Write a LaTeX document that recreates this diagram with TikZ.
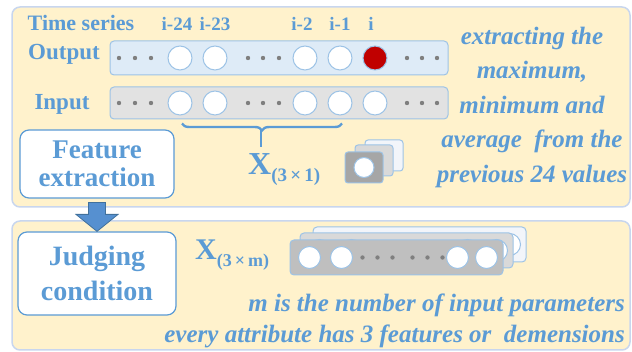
\documentclass[tikz,border=0pt]{standalone}
\usepackage{fontspec}
\setmainfont{Liberation Serif}
\usepackage{tikz}
\usetikzlibrary{positioning,calc,decorations.pathreplacing}
\definecolor{panelfill}{RGB}{255,242,204}
\definecolor{panelline}{RGB}{200,214,238}
\definecolor{txtblue}{RGB}{91,155,213}
\definecolor{rowline}{RGB}{157,195,230}
\definecolor{outfill}{RGB}{222,235,247}
\definecolor{infill}{RGB}{226,226,226}
\definecolor{dotgray}{RGB}{127,127,127}
\definecolor{redcell}{RGB}{192,0,0}
\definecolor{arrowfill}{RGB}{86,144,208}
\definecolor{arrowline}{RGB}{65,113,156}
\definecolor{frontfill}{RGB}{191,191,191}
\definecolor{midfill}{RGB}{217,217,217}
\definecolor{backfill}{RGB}{242,245,250}
\definecolor{iconfront}{RGB}{166,166,166}

\begin{document}
\begin{tikzpicture}[
        x=1pt, y=-1pt,
        panel/.style={draw=panelline, fill=panelfill, rounded corners=8pt, line width=1.5pt},
        seqrow/.style={draw=rowline, rounded corners=4pt, line width=1pt, inner sep=0pt, minimum width=338pt},
        cell/.style={circle, draw=rowline, fill=white, line width=1pt, minimum size=24pt, inner sep=0pt},
        dot/.style={circle, fill=dotgray, minimum size=4.4pt, inner sep=0pt},
        lbl/.style={text=txtblue, font=\bfseries\fontsize{23}{23}\selectfont, inner sep=0pt},
        idxlbl/.style={text=txtblue, font=\bfseries\fontsize{19}{19}\selectfont, inner sep=0pt},
        xlbl/.style={text=txtblue, font=\bfseries\fontsize{32}{32}\selectfont, inner sep=0pt},
        procbox/.style={draw=txtblue, fill=white, rounded corners=9pt, line width=1.2pt, text=txtblue, align=center, font=\bfseries\fontsize{27}{28}\selectfont},
        note/.style={text=txtblue, font=\bfseries\itshape\fontsize{25}{34.5}\selectfont, inner sep=0pt},
        icon/.style={draw=rowline, rounded corners=3pt, line width=1pt, minimum width=38pt, minimum height=31pt, inner sep=0pt},
        stackrow/.style={draw=rowline, rounded corners=4pt, line width=1pt, minimum width=213pt, minimum height=35pt, inner sep=0pt},
        bracepen/.style={draw=txtblue, line width=2.4pt},
        blockarrow/.style={fill=arrowfill, draw=arrowline, line width=0.8pt}
    ]
        \useasboundingbox (0,0) rectangle (632,352);

        \draw[panel] (12,7) rectangle (630,207);
        \draw[panel] (12,221) rectangle (630,350);

        % time series rows
        \node[seqrow, fill=outfill, minimum height=34pt] (outrow) at (279,58) {};
        \node[seqrow, fill=infill, minimum height=32pt] (inrow) at (279,103) {};
        \foreach \cx/\nm in {180/a,215/b,305/c,340/d}{
            \node[cell] (o\nm) at (\cx,58) {};
            \node[cell] (i\nm) at (\cx,103) {};
        }
        \node[cell, fill=redcell] (oe) at (375,58) {};
        \node[cell] (ie) at (375,103) {};
        \foreach \dx in {119,135,151,248,263,279,407,422,437}{
            \node[dot] (od\dx) at (\dx,58) {};
            \node[dot] (id\dx) at (\dx,103) {};
        }

        \node[lbl, font=\bfseries\fontsize{22}{22}\selectfont, anchor=base] (series) at (81,31) {Time series};
        \node[lbl, anchor=base] (outlbl) at (64,60) {Output};
        \node[lbl, anchor=base] (inlbl) at (62,110) {Input};
        \foreach \cx/\t in {177/i-24,215/i-23,302/i-2,340/i-1,371/i}
            \node[idxlbl, anchor=base] (t\cx) at (\cx,31) {\t};

        % brace and feature vector
        \draw[bracepen, decorate, decoration={brace, mirror, amplitude=7pt}] ($(ia.south)+(2,8)$) -- ($(id.south)+(2,8)$);
        \coordinate (bracetip) at ($(ia.south)!0.5!(id.south)+(1,15)$);
        \draw[bracepen] (bracetip) -- ++(0,17);

        \node[xlbl, anchor=base west] (xone) at (248,175) {X\raisebox{-7pt}{\fontsize{19}{19}\selectfont(3\,×\,1)}};
        \node[icon, fill=backfill] (sqc) at (384,155.5) {};
        \node[icon, fill=midfill] (sqb) at (374,160.5) {};
        \node[icon, fill=iconfront] (sqa) at (364,167.5) {};
        \node[cell, minimum size=20pt] (sqcell) at (sqa) {};

        \node[note, align=center] (desc) at (532,107) {extracting the\\maximum,\\minimum and\\average~ from the\\previous 24 values};

        % steps
        \node[procbox, minimum width=154pt, minimum height=68pt] (feat) at (97,164) {Feature\\extraction};
        \node[procbox, minimum width=158pt, minimum height=83pt, font=\bfseries\fontsize{28}{35}\selectfont] (judge) at (97,273.5) {Judging\\condition};
        \draw[blockarrow] ($(feat.south)+(-8.5,4)$) -- ($(feat.south)+(8.5,4)$) -- ($(judge.north)+(8.5,-17)$) -- ($(judge.north)+(21,-17)$)
            -- (judge.north) -- ($(judge.north)+(-21,-17)$) -- ($(judge.north)+(-8.5,-17)$) -- cycle;

        % stacked input matrix
        \node[xlbl, font=\bfseries\fontsize{30}{30}\selectfont, anchor=base west] (xm) at (195,260) {X\raisebox{-7pt}{\fontsize{18}{18}\selectfont(3\,×\,m)}};
        \foreach \lx/\ly/\fc/\nm in {23/13/backfill/c, 10/7/midfill/b, 0/0/frontfill/a}{
            \node[stackrow, fill=\fc] (s\nm) at (396.5+\lx, 257.5-\ly) {};
            \foreach \px in {20,52,168,197}
                \node[cell, minimum size=22pt] (s\nm c\px) at ($(s\nm.west)+(\px,0)$) {};
            \foreach \px in {73,88,103,123,138,153}
                \node[dot] (s\nm d\px) at ($(s\nm.west)+(\px,0)$) {};
        }

        \node[note, anchor=base east] (mnote) at (625,312) {m is the number of input parameters};
        \node[note, anchor=base east] (anote) at (625,343) {every attribute has 3 features or~ demensions};

    \end{tikzpicture}
\end{document}
